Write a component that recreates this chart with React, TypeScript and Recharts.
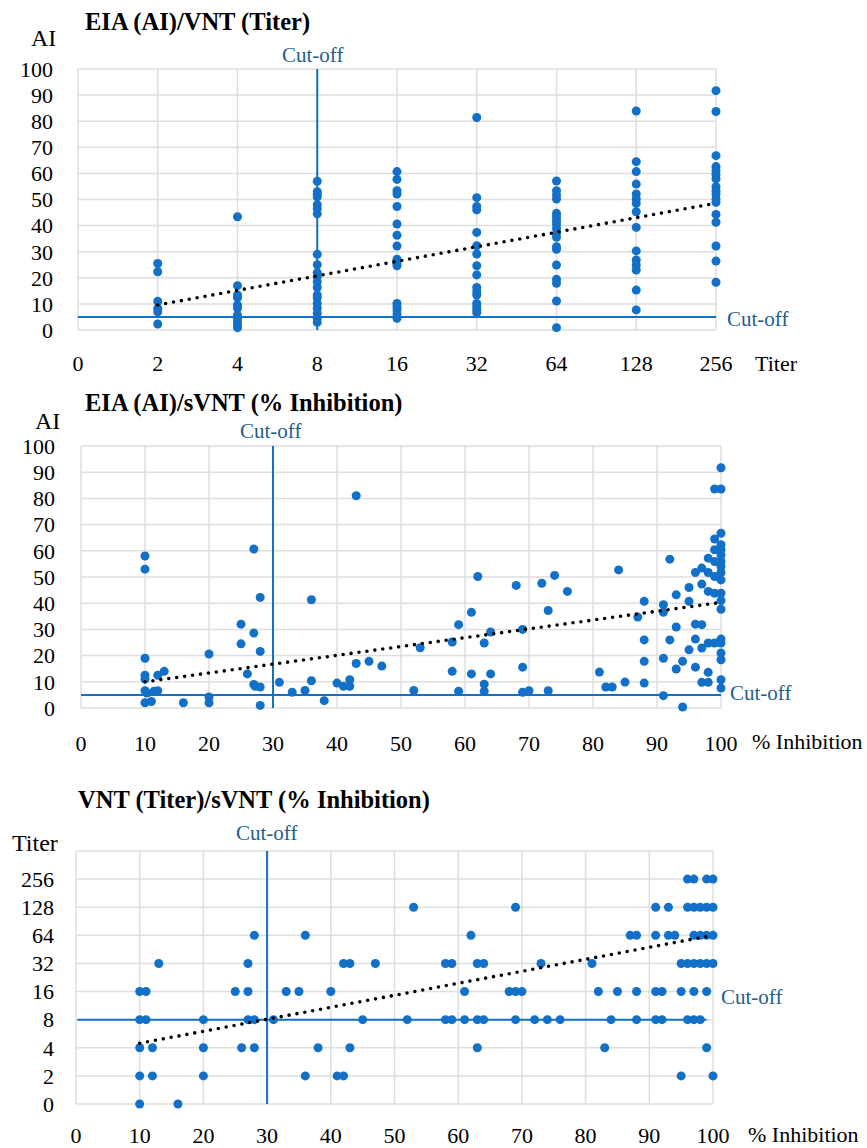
import React from 'react';
import {
  ScatterChart, Scatter, XAxis, YAxis, CartesianGrid, ReferenceLine
} from 'recharts';

const FONT = 'Liberation Serif, DejaVu Serif, serif';
const BLUE = '#1270c8';
const CUT = '#1f5f8b';
const GRID = '#dedede';

// ---- chart 1: EIA (AI) vs VNT titer ----
const titerLabels = ['0', '2', '4', '8', '16', '32', '64', '128', '256'];
const aiTiter2 = [25.5, 22.3, 11, 8.3, 7, 2.3];
const aiTiter4 = [43.4, 17, 13.4, 12.4, 9.6, 8.3, 5.7, 4.5, 3.2, 1.9, 0.9];
const aiTiter8 = [57, 53, 52, 51, 48, 46.5, 44.5, 29, 25, 22, 20.4, 18.5, 16.3, 13.4, 12.4, 10.2, 8.3, 6.4, 4.5, 2.9];
const aiTiter16 = [60.7, 57.7, 53.4, 52.1, 47.3, 40.6, 36.3, 32.2, 27.1, 25.5, 24.6, 10.2, 8.9, 7.7, 6.1, 4.5];
const aiTiter32 = [81.4, 50.7, 47.3, 46, 37.4, 32.3, 29.1, 24.6, 21.1, 16.3, 14.7, 13.4, 10.2, 8.9, 7.7, 6.6];
const aiTiter64 = [57.1, 53.4, 51.7, 50.2, 44.7, 43.4, 41.9, 40.6, 39, 37, 35.5, 31.9, 30.9, 24.9, 19.4, 17.9, 11.1, 0.9];
const aiTiter128 = [83.9, 64.5, 60.7, 55.9, 52.1, 50.2, 48.5, 45.3, 39.3, 30.3, 26.8, 24.9, 23, 15.3, 7.7];
const aiTiter256 = [91.7, 83.7, 66.8, 62.6, 61, 59.6, 57.9, 54.9, 53.4, 52.1, 50.2, 48.9, 44.3, 41.3, 32.2, 26.4, 18.3];
const vntTrend = [{ x: 1, y: 9.6 }, { x: 8, y: 48.6 }];

const titerGroups: [string, number[]][] = [
  ['2', aiTiter2], ['4', aiTiter4], ['8', aiTiter8], ['16', aiTiter16],
  ['32', aiTiter32], ['64', aiTiter64], ['128', aiTiter128], ['256', aiTiter256],
];
const chart1Data = titerGroups.flatMap(([t, vals]) =>
  vals.map((v) => ({ x: titerLabels.indexOf(t), y: v }))
);

// ---- chart 2: EIA (AI) vs sVNT % inhibition, [inhibition, AI] ----
const aiInhibition: [number, number][] = [
  [10, 58], [10, 53], [10, 19], [10, 12.5], [10, 11], [10, 6.6], [10.3, 5.7], [11.4, 6.4], [12, 12.5], [13, 14],
  [12, 6.6], [10, 2], [11, 2.5], [16, 2], [20, 20.6], [20, 4.2], [20, 2], [25, 32], [25, 24.5], [27, 60.7],
  [27, 28.6], [28, 42.2], [28, 21.6], [26, 13], [27, 9], [27.2, 8.3], [28, 8], [28, 1], [31, 9.8], [33, 6],
  [35, 6.7], [36, 10.4], [36, 41.3], [38, 2.8], [40, 9.5], [41, 8.3], [42, 10.8], [42, 8.3], [43, 81], [43, 17],
  [45, 17.8], [47, 16], [52, 6.7], [53, 23], [58, 25.2], [58, 14], [59, 31.8], [59, 6.4], [61, 36.5], [61, 13],
  [62, 50.2], [63, 24.8], [63, 9.1], [63, 6.4], [64, 29], [64, 13], [68, 46.8], [69, 30], [69, 15.6], [69, 6],
  [70, 6.6], [72, 47.6], [73, 37.2], [73, 6.6], [74, 50.6], [76, 44.5], [81, 13.7], [82, 8], [83, 8], [84, 52.7],
  [85, 9.9], [87, 34.7], [88, 40.7], [88, 26], [88, 17.8], [88, 9.5], [91, 39.4], [91, 36.5], [91, 19], [91, 4.7],
  [92, 56.8], [92, 26], [93, 43.2], [93, 30.9], [93, 14.9], [94, 17.8], [94, 0.4], [95, 46], [95, 40.7], [95, 22.2],
  [96, 51.7], [96, 32], [96, 26.3], [96, 15.6], [97, 53.4], [97, 47.3], [97, 31.8], [97, 22.9], [97, 9.8], [98, 57.2],
  [98, 51.7], [98, 44.5], [98, 24.8], [98, 13.6], [98, 9.8], [99, 83.6], [99, 64.5], [99, 60.4], [99, 55.9], [99, 50.2],
  [99, 43.8], [99, 24.8], [100, 91.7], [100, 83.6], [100, 66.7], [100, 62.3], [100, 60.4], [100, 58.4], [100, 55.9], [100, 54],
  [100, 51.7], [100, 48.9], [100, 43.8], [100, 41], [100, 37.7], [100, 26.3], [100, 24.8], [100, 21], [100, 18.4], [100, 10.8],
  [100, 7.6],
];
const aiInhTrend = [{ x: 10, y: 10 }, { x: 100, y: 40.3 }];
const chart2Data = aiInhibition.map(([x, y]) => ({ x, y }));

// ---- chart 3: VNT titer vs sVNT % inhibition, inhibition values per titer row ----
const titerAxisLabels = ['0', '2', '4', '8', '16', '32', '64', '128', '256', ''];
const inhTiter0 = [10, 16];
const inhTiter2 = [10, 12, 20, 36, 41, 42, 95, 100];
const inhTiter4 = [10, 12, 20, 26, 28, 38, 43, 63, 83, 99];
const inhTiter8 = [10, 11, 20, 27, 28, 31, 45, 52, 58, 59, 61, 63, 64, 69, 72, 74, 76, 84, 88, 91, 92, 96, 97, 98];
const inhTiter16 = [10, 11, 25, 27, 33, 35, 40, 61, 68, 69, 70, 82, 85, 88, 91, 92, 95, 97, 99];
const inhTiter32 = [13, 27, 42, 43, 47, 58, 59, 63, 64, 73, 81, 95, 96, 97, 98, 99, 100];
const inhTiter64 = [28, 36, 62, 87, 88, 91, 93, 94, 97, 98, 99, 100];
const inhTiter128 = [53, 69, 91, 93, 96, 97, 98, 99, 100];
const inhTiter256 = [96, 97, 99, 100];
const titerInhTrend = [{ x: 10, y: 2.16 }, { x: 100, y: 6.0 }];

const inhRows = [inhTiter0, inhTiter2, inhTiter4, inhTiter8, inhTiter16, inhTiter32, inhTiter64, inhTiter128, inhTiter256];
const chart3Data = inhRows.flatMap((vals, row) => vals.map((x) => ({ x, y: row })));

const tens = [0, 10, 20, 30, 40, 50, 60, 70, 80, 90, 100];

const tickStyle = { fontSize: 22, fill: '#000', fontFamily: FONT };

const dot = (p: any) => <circle cx={p.cx} cy={p.cy} r={4.5} fill={BLUE} />;
const noDot = () => <g />;
const trendLine = { stroke: '#000', strokeWidth: 3.6, strokeDasharray: '0 8', strokeLinecap: 'round' as const };

function Txt({ x, y, size = 22, bold = false, color = '#000', children }: any) {
  return (
    <div
      style={{
        position: 'absolute', left: x, top: y, fontSize: size, fontWeight: bold ? 'bold' : 'normal',
        color, fontFamily: FONT, lineHeight: 1, whiteSpace: 'nowrap', transform: 'translateY(-50%)',
      }}
    >
      {children}
    </div>
  );
}

export default function App() {
  return (
    <div style={{ position: 'absolute', left: 0, top: 0, width: 867, height: 1148, background: '#fff', overflow: 'hidden' }}>
      {/* chart 1 */}
      <div style={{ position: 'absolute', left: 0, top: 0 }}>
        <ScatterChart width={867} height={380} margin={{ top: 69, right: 151, bottom: 0, left: 0 }}>
          <CartesianGrid stroke={GRID} strokeWidth={1.5} />
          <XAxis
            type="number" dataKey="x" domain={[0, 8]} ticks={[0, 1, 2, 3, 4, 5, 6, 7, 8]}
            tickFormatter={(v: number) => titerLabels[v]} axisLine={false} tickLine={false}
            tick={tickStyle} tickMargin={19} height={50} interval={0}
          />
          <YAxis
            type="number" dataKey="y" domain={[0, 100]} ticks={tens} axisLine={false} tickLine={false}
            tick={tickStyle} tickMargin={19} width={78} interval={0}
          />
          <ReferenceLine x={3} stroke={BLUE} strokeWidth={2} />
          <ReferenceLine y={5} stroke={BLUE} strokeWidth={2} />
          <Scatter data={chart1Data} shape={dot} isAnimationActive={false} />
          <Scatter data={vntTrend} line={trendLine} shape={noDot} isAnimationActive={false} />
        </ScatterChart>
      </div>
      <Txt x={85} y={22} size={24.5} bold>EIA (AI)/VNT (Titer)</Txt>
      <Txt x={31} y={38} size={24}>AI</Txt>
      <Txt x={282} y={55} size={21} color={CUT}>Cut-off</Txt>
      <Txt x={727} y={319} size={21} color={CUT}>Cut-off</Txt>
      <Txt x={755} y={364} size={22}>Titer</Txt>

      {/* chart 2 */}
      <div style={{ position: 'absolute', left: 0, top: 380 }}>
        <ScatterChart width={867} height={380} margin={{ top: 66, right: 146, bottom: 0, left: 0 }}>
          <CartesianGrid stroke={GRID} strokeWidth={1.5} />
          <XAxis
            type="number" dataKey="x" domain={[0, 100]} ticks={tens} axisLine={false} tickLine={false}
            tick={tickStyle} tickMargin={21} height={52} interval={0}
          />
          <YAxis
            type="number" dataKey="y" domain={[0, 100]} ticks={tens} axisLine={false} tickLine={false}
            tick={tickStyle} tickMargin={20} width={81} interval={0}
          />
          <ReferenceLine x={30} stroke={BLUE} strokeWidth={2} />
          <ReferenceLine y={5} stroke={BLUE} strokeWidth={2} />
          <Scatter data={chart2Data} shape={dot} isAnimationActive={false} />
          <Scatter data={aiInhTrend} line={trendLine} shape={noDot} isAnimationActive={false} />
        </ScatterChart>
      </div>
      <Txt x={85} y={403} size={24.5} bold>EIA (AI)/sVNT (% Inhibition)</Txt>
      <Txt x={35} y={421} size={24}>AI</Txt>
      <Txt x={240} y={431} size={21} color={CUT}>Cut-off</Txt>
      <Txt x={730} y={693} size={21} color={CUT}>Cut-off</Txt>
      <Txt x={752} y={742} size={22}>% Inhibition</Txt>

      {/* chart 3 */}
      <div style={{ position: 'absolute', left: 0, top: 780 }}>
        <ScatterChart width={867} height={368} margin={{ top: 71, right: 154, bottom: 0, left: 0 }}>
          <CartesianGrid stroke={GRID} strokeWidth={1.5} />
          <XAxis
            type="number" dataKey="x" domain={[0, 100]} ticks={tens} axisLine={false} tickLine={false}
            tick={tickStyle} tickMargin={17} height={44} interval={0}
          />
          <YAxis
            type="number" dataKey="y" domain={[0, 9]} ticks={[0, 1, 2, 3, 4, 5, 6, 7, 8, 9]}
            tickFormatter={(v: number) => titerAxisLabels[v]} axisLine={false} tickLine={false}
            tick={tickStyle} tickMargin={16} width={76} interval={0}
          />
          <ReferenceLine x={30} stroke={BLUE} strokeWidth={2} />
          <ReferenceLine segment={[{ x: 0.2, y: 3 }, { x: 99, y: 3 }]} stroke={BLUE} strokeWidth={2} />
          <Scatter data={chart3Data} shape={dot} isAnimationActive={false} />
          <Scatter data={titerInhTrend} line={trendLine} shape={noDot} isAnimationActive={false} />
        </ScatterChart>
      </div>
      <Txt x={78} y={800} size={24.5} bold>VNT (Titer)/sVNT (% Inhibition)</Txt>
      <Txt x={12} y={843} size={24}>Titer</Txt>
      <Txt x={236} y={833} size={21} color={CUT}>Cut-off</Txt>
      <Txt x={721} y={997} size={21} color={CUT}>Cut-off</Txt>
      <Txt x={748} y={1135} size={22}>% Inhibition</Txt>
    </div>
  );
}
